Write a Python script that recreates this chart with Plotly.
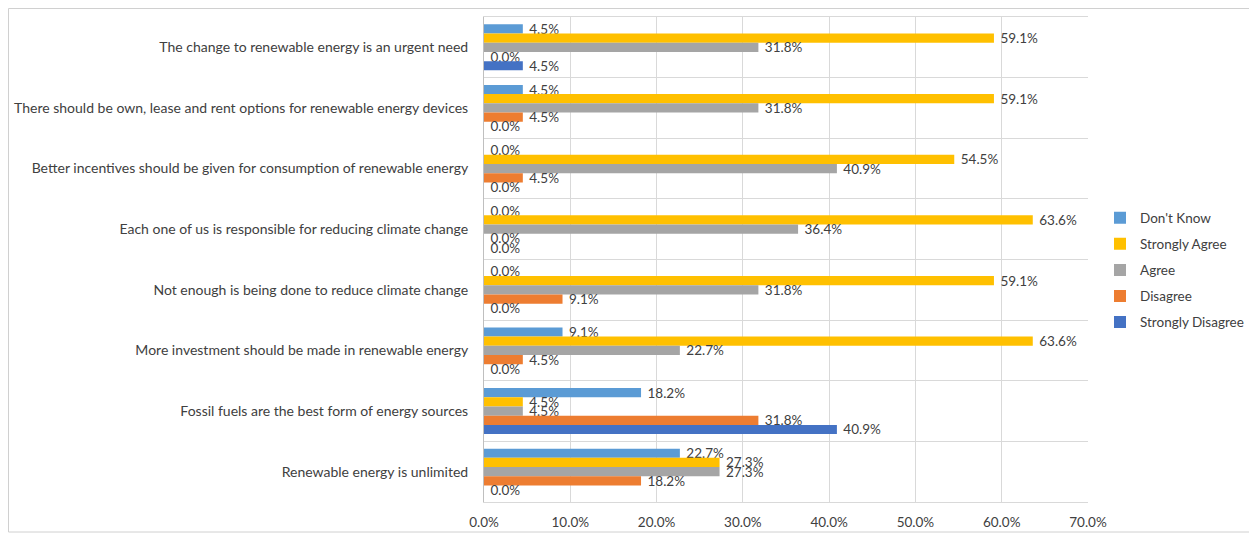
import plotly.graph_objects as go

categories = [
    "The change to renewable energy is an urgent need",
    "There should be own, lease and rent options for renewable energy devices",
    "Better incentives should be given for consumption of renewable energy",
    "Each one of us is responsible for reducing climate change",
    "Not enough is being done to reduce climate change",
    "More investment should be made in renewable energy",
    "Fossil fuels are the best form of energy sources",
    "Renewable energy is unlimited",
]

dont_know = [0.045, 0.045, 0.0, 0.0, 0.0, 0.091, 0.182, 0.227]
strongly_agree = [0.591, 0.591, 0.545, 0.636, 0.591, 0.636, 0.045, 0.273]
agree = [0.318, 0.318, 0.409, 0.364, 0.318, 0.227, 0.045, 0.273]
disagree = [0.0, 0.045, 0.045, 0.0, 0.091, 0.045, 0.318, 0.182]
strongly_disagree = [0.045, 0.0, 0.0, 0.0, 0.0, 0.0, 0.409, 0.0]

series_names = ["Don't Know", "Strongly Agree", "Agree", "Disagree", "Strongly Disagree"]
series_values = [dont_know, strongly_agree, agree, disagree, strongly_disagree]
series_colors = ["#5B9BD5", "#FFC000", "#A5A5A5", "#ED7D31", "#4472C4"]

x_ticks = [0.0, 0.1, 0.2, 0.3, 0.4, 0.5, 0.6, 0.7]

FONT = "Lato, 'Liberation Sans', sans-serif"
TXT = "#404040"

# page body has an 8px margin, so the figure is offset by 8px in the window
W, H = 1249, 527
L, T, PW, PH = 476, 9, 604, 485

fig = go.Figure()
for name, vals, col in zip(series_names, series_values, series_colors):
    fig.add_trace(go.Bar(
        y=categories, x=vals, name=name, orientation="h",
        legendgroup=name,
        marker=dict(color=col, line=dict(width=0)),
        texttemplate="\u00a0%{x:.1%}", textposition="outside",
        textfont=dict(family=FONT, size=13.5, color=TXT),
        constraintext="none", cliponaxis=False,
    ))

fig.update_layout(
    width=W, height=H,
    margin=dict(l=L, r=W - L - PW, t=T, b=H - T - PH, autoexpand=False),
    paper_bgcolor="white", plot_bgcolor="white",
    barmode="group", bargap=0.24, bargroupgap=0.0,
    font=dict(family=FONT, size=13.5, color=TXT),
    xaxis=dict(
        range=[0, 0.7], tickvals=x_ticks, tickformat=".1%",
        showgrid=True, gridcolor="#D9D9D9", gridwidth=1,
        zeroline=False, showline=True, linecolor="#D9D9D9", mirror=True,
        ticks="", ticklabelstandoff=8,
        tickfont=dict(family=FONT, size=13.5, color=TXT),
    ),
    yaxis=dict(
        type="category", autorange="reversed", tickson="boundaries",
        showgrid=True, gridcolor="#D9D9D9", gridwidth=1,
        showline=True, linecolor="#BFBFBF", mirror=False,
        ticks="", ticklabelstandoff=12,
        tickfont=dict(family=FONT, size=14, color=TXT),
    ),
    legend=dict(
        x=(1092 - L) / PW, xanchor="left", y=(T + PH - 262) / PH, yanchor="middle",
        font=dict(family=FONT, size=13.5, color=TXT),
        itemwidth=30, tracegroupgap=5.5, traceorder="grouped",
    ),
    shapes=[dict(
        type="rect", xref="paper", yref="paper",
        x0=(0.5 - L) / PW, x1=(1243 - L) / PW,
        y0=(T + PH - 524) / PH, y1=(T + PH - 0.5) / PH,
        line=dict(color="#D0D0D0", width=1), fillcolor="rgba(0,0,0,0)",
        layer="below",
    )],
)

fig.write_html("out.html")
